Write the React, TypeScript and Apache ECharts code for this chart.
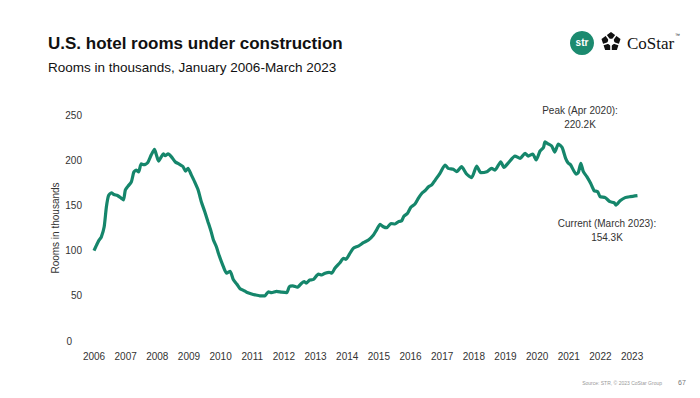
import React, { useEffect, useRef } from "react";
import * as echarts from "echarts";

const years: number[] = [
  2006.0, 2006.08, 2006.15, 2006.23, 2006.32, 2006.39, 2006.46, 2006.55, 2006.63, 2006.74, 2006.86, 2006.93, 2006.99,
  2007.07, 2007.18, 2007.26, 2007.34, 2007.41, 2007.49, 2007.58, 2007.69, 2007.81, 2007.91, 2007.97,
  2008.04, 2008.13, 2008.19, 2008.25, 2008.34, 2008.44, 2008.57, 2008.68, 2008.81, 2008.89, 2008.97,
  2009.07, 2009.18, 2009.29, 2009.39, 2009.5, 2009.6, 2009.7, 2009.77, 2009.87, 2009.93,
  2010.09, 2010.19, 2010.3, 2010.4, 2010.51, 2010.61, 2010.72, 2010.82, 2010.98,
  2011.09, 2011.24, 2011.4, 2011.51, 2011.61, 2011.77, 2011.93,
  2012.09, 2012.17, 2012.28, 2012.42, 2012.56, 2012.64, 2012.7, 2012.82, 2012.93,
  2013.09, 2013.19, 2013.3, 2013.43, 2013.51, 2013.61, 2013.77, 2013.88, 2013.96,
  2014.07, 2014.19, 2014.35, 2014.51, 2014.67, 2014.83, 2014.93,
  2015.04, 2015.14, 2015.25, 2015.38, 2015.51, 2015.62, 2015.72, 2015.79, 2015.9,
  2016.01, 2016.14, 2016.25, 2016.36, 2016.46, 2016.57, 2016.67, 2016.78, 2016.93,
  2017.09, 2017.19, 2017.35, 2017.46, 2017.61, 2017.77, 2017.93,
  2018.09, 2018.22, 2018.41, 2018.56, 2018.67, 2018.85, 2018.95,
  2019.09, 2019.3, 2019.46, 2019.62, 2019.72, 2019.86, 2019.97,
  2020.09, 2020.2, 2020.25, 2020.35, 2020.46, 2020.56, 2020.67, 2020.79, 2020.9, 2020.98,
  2021.06, 2021.23, 2021.3, 2021.38, 2021.46, 2021.57, 2021.69, 2021.8, 2021.91, 2021.99,
  2022.15, 2022.3, 2022.43, 2022.49, 2022.62, 2022.78, 2022.94, 2023.17,
];

const rooms: number[] = [
  100, 106, 111, 115, 126, 148, 161, 164, 162, 161, 158, 156, 167,
  171, 176, 187, 189, 187, 196, 195, 197, 206, 212, 206,
  199, 204, 207, 205, 207, 204, 198, 196, 193, 188, 191,
  184, 176, 167, 154, 143, 132, 121, 112, 104, 97,
  82, 75, 77, 68, 63, 58, 56, 54, 52,
  51, 50, 50, 54.5, 53.5, 55, 54,
  53.5, 60, 61, 59.5, 64, 65.6, 64, 67.5, 68,
  74, 73, 75, 76, 75, 80.4, 86.6, 91.5, 90.4,
  96, 102.5, 105, 108.7, 111.7, 117.3, 123,
  129, 126.4, 125.3, 130, 129.4, 132, 133, 138, 141,
  148, 151.5, 158, 163.4, 166.3, 170.7, 172.6, 178, 185.5,
  194.7, 191, 190, 187.3, 192.8, 184.7, 180.7,
  193.6, 186.2, 187.3, 191, 189, 198.3, 192,
  197, 204.6, 202, 207.6, 204.6, 206.8, 200.2,
  210, 214, 220.2, 218, 215.7, 209, 217.9, 214, 202, 197,
  194.7, 184.7, 186.2, 196.6, 187.3, 181.8, 174.4, 166.3, 165.2, 159.7,
  158.6, 154.1, 153, 150.4, 155.2, 158.6, 159.7, 160.8,
];

const titleText = "U.S. hotel rooms under construction";
const subtitleText = "Rooms in thousands, January 2006-March 2023";
const yAxisName = "Rooms in thousands";
const peakLabel = ["Peak (Apr 2020):", "220.2K"];
const currentLabel = ["Current (March 2023):", "154.3K"];
const sourceText = "Source: STR, © 2023 CoStar Group";
const pageNumber = "67";

const LINE_COLOR = "#15866b";
const FONT = "'Liberation Sans', Arial, sans-serif";

function pentagon(cx: number, cy: number, r: number, rot: number): number[][] {
  const pts: number[][] = [];
  for (let i = 0; i < 5; i++) {
    const a = rot + (i * 2 * Math.PI) / 5;
    pts.push([cx + r * Math.cos(a), cy + r * Math.sin(a)]);
  }
  return pts;
}

export default function App() {
  const ref = useRef<HTMLDivElement>(null);

  useEffect(() => {
    if (!ref.current) return;
    const chart = echarts.init(ref.current, null, { renderer: "svg" });
    const data = years.map((y, i) => [y, rooms[i]]);
    const icx = 611;
    const icy = 42;
    const gaps = [0, 1, 2, 3, 4].map((i) => {
      const a = -Math.PI / 2 + Math.PI / 5 + (i * 2 * Math.PI) / 5;
      return {
        type: "line",
        shape: { x1: icx, y1: icy, x2: icx + 11 * Math.cos(a), y2: icy + 11 * Math.sin(a) },
        style: { stroke: "#fff", lineWidth: 1.6 },
        z: 12,
      };
    });
    chart.setOption({
      animation: false,
      backgroundColor: "#ffffff",
      grid: { left: 94, right: 60, top: 115, bottom: 57, containLabel: false },
      xAxis: {
        type: "value",
        min: 2006,
        max: 2023.25,
        interval: 1,
        axisLine: { show: false },
        axisTick: { show: false },
        splitLine: { show: false },
        axisLabel: {
          margin: 10,
          fontSize: 10,
          fontFamily: FONT,
          color: "#333",
          formatter: (v: number) => (Math.abs(v - Math.round(v)) < 1e-6 ? String(Math.round(v)) : ""),
        },
      },
      yAxis: {
        type: "value",
        min: 0,
        max: 250,
        interval: 50,
        axisLine: { show: false },
        axisTick: { show: false },
        splitLine: { show: false },
        name: yAxisName,
        nameLocation: "middle",
        nameGap: 34,
        nameMoveOverlap: false,
        nameTextStyle: { fontSize: 10, fontFamily: FONT, color: "#333" },
        axisLabel: {
          margin: 12,
          fontSize: 10,
          fontFamily: FONT,
          color: "#333",
          formatter: (v: number) => (v === 0 ? "{z|0}" : String(v)),
          rich: { z: { fontSize: 10, fontFamily: FONT, color: "#333", padding: [0, 10, 0, 0] } },
        },
      },
      series: [
        {
          type: "line",
          data,
          showSymbol: false,
          smooth: 0.2,
          lineStyle: { color: LINE_COLOR, width: 3.2 },
          itemStyle: { color: LINE_COLOR },
        },
      ],
      graphic: [
        {
          type: "text",
          left: 48,
          top: 35,
          style: { text: titleText, fontSize: 17, fontWeight: "bold", fontFamily: FONT, fill: "#111" },
        },
        {
          type: "text",
          left: 48,
          top: 60,
          style: { text: subtitleText, fontSize: 13.5, fontFamily: FONT, fill: "#111" },
        },
        {
          type: "text",
          x: 580,
          y: 117,
          style: {
            text: peakLabel.join("\n"),
            fontSize: 10,
            lineHeight: 14,
            fontFamily: FONT,
            fill: "#333",
            align: "center",
            verticalAlign: "middle",
          },
        },
        {
          type: "text",
          x: 607,
          y: 230,
          style: {
            text: currentLabel.join("\n"),
            fontSize: 10,
            lineHeight: 14,
            fontFamily: FONT,
            fill: "#333",
            align: "center",
            verticalAlign: "middle",
          },
        },
        {
          type: "circle",
          shape: { cx: 582, cy: 43, r: 12 },
          style: { fill: "#1b8a6f" },
        },
        {
          type: "text",
          x: 582,
          y: 42,
          style: {
            text: "str",
            fontSize: 10,
            fontWeight: "bold",
            fontFamily: FONT,
            fill: "#fff",
            align: "center",
            verticalAlign: "middle",
          },
        },
        {
          type: "polygon",
          shape: { points: pentagon(icx, icy, 10, -Math.PI / 2) },
          style: { fill: "#111" },
          z: 10,
        },
        {
          type: "polygon",
          shape: { points: pentagon(icx, icy, 4, Math.PI / 2) },
          style: { fill: "#fff" },
          z: 11,
        },
        ...gaps,
        {
          type: "text",
          x: 627,
          y: 43,
          style: {
            text: "CoStar",
            fontSize: 17,
            fontFamily: "'Liberation Serif', 'DejaVu Serif', serif",
            fill: "#111",
            verticalAlign: "middle",
          },
        },
        {
          type: "text",
          x: 675,
          y: 35,
          style: { text: "™", fontSize: 5, fontFamily: FONT, fill: "#111", verticalAlign: "middle" },
        },
        {
          type: "text",
          x: 662,
          y: 383,
          style: {
            text: sourceText,
            fontSize: 5,
            fontFamily: FONT,
            fill: "#999",
            align: "right",
            verticalAlign: "middle",
          },
        },
        {
          type: "text",
          x: 682,
          y: 382,
          style: {
            text: pageNumber,
            fontSize: 7,
            fontFamily: FONT,
            fill: "#777",
            align: "center",
            verticalAlign: "middle",
          },
        },
      ],
    });
    return () => chart.dispose();
  }, []);

  return <div ref={ref} style={{ width: 700, height: 398, position: "fixed", left: 0, top: 0 }} />;
}
